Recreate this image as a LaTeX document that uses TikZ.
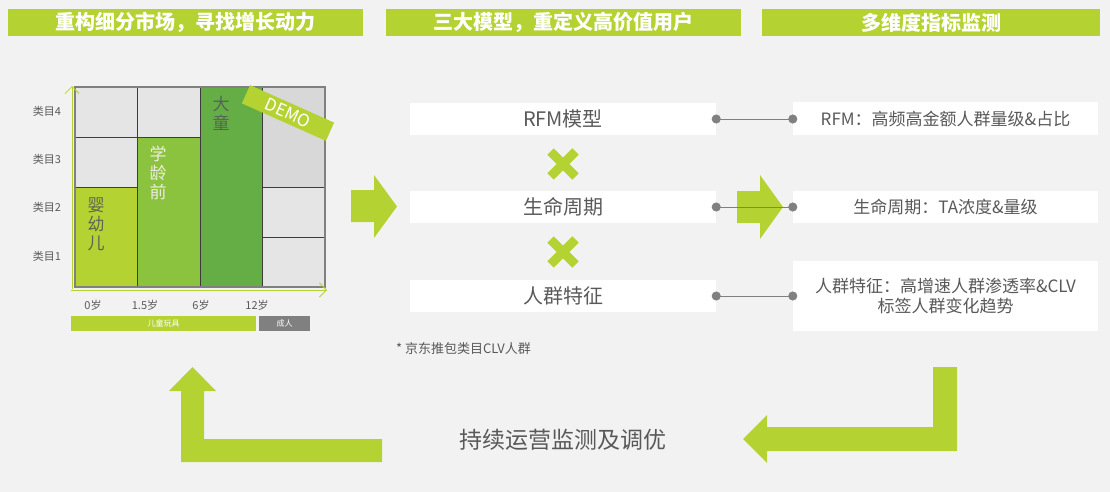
\documentclass[tikz,border=0pt]{standalone}
\usepackage{fontspec}
\setmainfont{Noto Sans CJK SC}
\usetikzlibrary{arrows.meta}
\definecolor{lime}{RGB}{180,211,51}
\definecolor{midg}{RGB}{139,195,63}
\definecolor{darkg}{RGB}{101,174,69}
\definecolor{bgc}{RGB}{242,242,242}
\definecolor{txt}{RGB}{89,89,89}
\definecolor{cellg}{RGB}{229,229,229}
\definecolor{cellgd}{RGB}{216,216,216}
\definecolor{dotg}{RGB}{128,128,128}
\definecolor{gridline}{RGB}{60,60,60}
\tikzset{
  header/.style={fill=lime, text=white, inner sep=0pt, minimum height=27pt,
    font=\fontsize{20}{22}\selectfont\bfseries},
  mbox/.style={fill=white, text=txt, inner sep=0pt, minimum width=306pt, minimum height=32pt,
    font=\fontsize{20}{22}\selectfont},
  rbox/.style={fill=white, text=txt, inner sep=0pt, minimum width=305pt, minimum height=32pt,
    align=center, font=\fontsize{17}{20}\selectfont},
  conn/.style={draw=dotg, line width=0.8pt, {Circle[length=9pt,width=9pt]}-{Circle[length=9pt,width=9pt]},
    shorten <=-4.5pt, shorten >=-4.5pt},
  bigarrow/.style={fill=lime},
  cell/.style={draw=gridline, line width=0.7pt},
  ylab/.style={text=txt, font=\fontsize{11}{12}\selectfont, inner sep=0pt},
  clab/.style={align=center, inner sep=0pt, font=\fontsize{17}{19}\selectfont},
  axis/.style={draw=lime, line width=0.8pt, -{Straight Barb[length=7pt,width=14pt]}},
  xmark/.style={draw=lime, line width=9pt}
}
\begin{document}
\begin{tikzpicture}[x=1pt,y=-1pt]
\fill[bgc] (0,0) rectangle (1110,492);
\useasboundingbox (0,0) rectangle (1110,492);

% headers
\node[header, minimum width=355pt] (h1) at (185.5,22.5) {重构细分市场，寻找增长动力};
\node[header, minimum width=355pt] (h2) at (563.5,22.5) {三大模型，重定义高价值用户};
\node[header, minimum width=338pt] (h3) at (931,22.5) {多维度指标监测};

% chart cells
\fill[cellg] (75,87) rectangle (137,187);
\fill[lime] (75,187) rectangle (137,287);
\fill[cellg] (137,87) rectangle (200,137);
\fill[midg] (137,137) rectangle (200,287);
\fill[darkg] (200,87) rectangle (262,287);
\fill[cellgd] (262,87) rectangle (325,187);
\fill[cellg] (262,187) rectangle (325,287);
\draw[cell] (75,137) -- (137,137) (75,187) -- (137,187)
  (137,87) -- (137,287) (137,137) -- (200,137) (200,87) -- (200,287)
  (262,87) -- (262,287) (262,187) -- (325,187) (262,237) -- (325,237);
\draw[draw=dotg, line width=1.2pt] (75,87) rectangle (325,287);

% cell labels
\node[clab, text={rgb,255:red,95;green,100;blue,80}] (l1) at (96,224) {婴\\幼\\儿};
\node[clab, text={rgb,255:red,236;green,236;blue,226}] (l2) at (158,173) {学\\龄\\前};
\node[clab, text={rgb,255:red,85;green,100;blue,85}] (l3) at (221,113) {大\\童};

% DEMO banner
\node[fill=lime, text=white, rotate=-24, minimum width=92pt, minimum height=20pt, inner sep=0pt,
  font=\fontsize{17}{17}\selectfont] (demo) at (288,113) {DEMO};

% axes
\coordinate (ytop) at (72,86);
\coordinate (xend) at (327,290);
\draw[axis] (72,289) -- (ytop);
\draw[axis] (71,290) -- (xend);

% y labels
\node[ylab] (y4) at (47,111) {类目4};
\node[ylab] (y3) at (47,159) {类目3};
\node[ylab] (y2) at (47,207) {类目2};
\node[ylab] (y1) at (47,256) {类目1};
% x labels
\node[ylab] (x0) at (93,305) {0岁};
\node[ylab] (x1) at (145,305) {1.5岁};
\node[ylab] (x2) at (201,305) {6岁};
\node[ylab] (x3) at (257,305) {12岁};

% bottom bars
\node[fill=lime, text=white, minimum width=185pt, minimum height=15pt, inner sep=0pt,
  font=\fontsize{8}{9}\selectfont] (kids) at (163.5,323.5) {儿童玩具};
\node[fill=dotg, text=white, minimum width=51pt, minimum height=15pt, inner sep=0pt,
  font=\fontsize{8}{9}\selectfont] (adult) at (284.5,323.5) {成人};

% big arrows
\fill[bigarrow] (351,190) -- (374,190) -- (374,175) -- (397,206.5) -- (374,238) -- (374,222) -- (351,222) -- cycle;
\fill[bigarrow] (737,191) -- (760,191) -- (760,175) -- (783,207) -- (760,239) -- (760,223) -- (737,223) -- cycle;

% middle boxes
\node[mbox] (m1) at (563,119) {RFM模型};
\node[mbox] (m2) at (563,207) {生命周期};
\node[mbox] (m3) at (563,296) {人群特征};

% x marks
\draw[xmark] (550.5,151.5) -- (575.5,176.5) (550.5,176.5) -- (575.5,151.5);
\draw[xmark] (550.5,239.5) -- (575.5,264.5) (550.5,264.5) -- (575.5,239.5);

% right boxes
\node[rbox, minimum height=33pt] (r1) at (945.5,118.5) {RFM：高频高金额人群量级\&占比};
\node[rbox] (r2) at (945.5,207) {生命周期：TA浓度\&量级};
\node[rbox, minimum height=70pt] (r3) at (945.5,296) {人群特征：高增速人群渗透率\&CLV\\标签人群变化趋势};

% connectors
\draw[conn] (m1.east) -- (m1.east -| r1.west);
\draw[conn] (m2.east) -- (r2.west);
\draw[conn] (m3.east) -- (m3.east -| r3.west);

% note
\node[anchor=west, text=txt, inner sep=0pt, font=\fontsize{13}{14}\selectfont] (note) at (396,349) {* 京东推包类目CLV人群};

% bottom loop arrows
\fill[bigarrow] (192.5,367) -- (216,391) -- (204,391) -- (204,439) -- (382,439) -- (382,462) -- (181,462) -- (181,391) -- (169,391) -- cycle;
\fill[bigarrow] (933,367) -- (957,367) -- (957,451) -- (767,451) -- (767,463) -- (743,439) -- (767,415) -- (767,427) -- (933,427) -- cycle;
\node[text=txt, inner sep=0pt, font=\fontsize{23}{25}\selectfont] (loop) at (563,440) {持续运营监测及调优};
\end{tikzpicture}
\end{document}
